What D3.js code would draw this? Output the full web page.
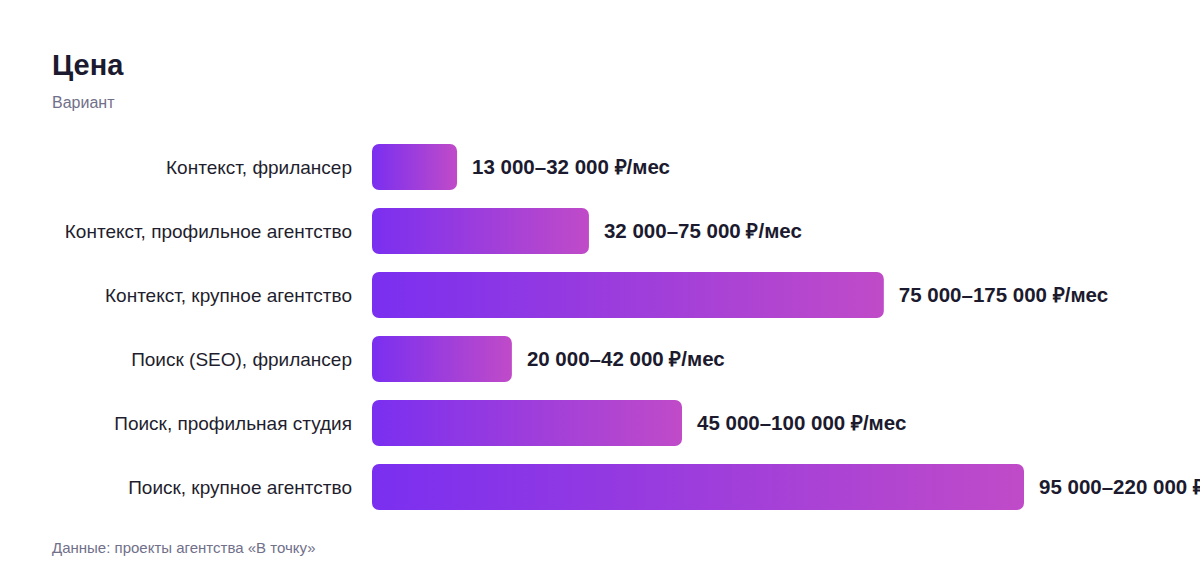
<!DOCTYPE html>
<html><head><meta charset="utf-8">
<script src="https://cdn.jsdelivr.net/npm/d3@7"></script>
<style>
html,body{margin:0;padding:0;background:#fff;}
svg{display:block;font-family:"Liberation Sans",Arial,Helvetica,sans-serif;}
</style></head>
<body>
<script>
const categories = [
  "Контекст, фрилансер",
  "Контекст, профильное агентство",
  "Контекст, крупное агентство",
  "Поиск (SEO), фрилансер",
  "Поиск, профильная студия",
  "Поиск, крупное агентство"
];
const priceLabels = [
  "13 000–32 000 ₽/мес",
  "32 000–75 000 ₽/мес",
  "75 000–175 000 ₽/мес",
  "20 000–42 000 ₽/мес",
  "45 000–100 000 ₽/мес",
  "95 000–220 000 ₽/мес"
];
const barValues = [28.7, 73.2, 172.7, 47.2, 104.6, 220];
const title = "Цена";
const subtitle = "Вариант";
const source = "Данные: проекты агентства «В точку»";

const W = 1200, H = 584;
const svg = d3.select("body").append("svg").attr("width", W).attr("height", H);

const defs = svg.append("defs");
const grad = defs.append("linearGradient").attr("id", "barGrad")
  .attr("x1", "0%").attr("x2", "100%").attr("y1", "0%").attr("y2", "0%");
grad.append("stop").attr("offset", "0%").attr("stop-color", "#7a2ff0");
grad.append("stop").attr("offset", "100%").attr("stop-color", "#c04bc8");

svg.append("text").attr("x", 52).attr("y", 75)
  .attr("font-size", 29).attr("font-weight", 700).attr("fill", "#1b1a2e").text(title);
svg.append("text").attr("x", 52).attr("y", 108)
  .attr("font-size", 16).attr("fill", "#71708a").text(subtitle);
svg.append("text").attr("x", 52).attr("y", 553)
  .attr("font-size", 15).attr("fill", "#71708a").text(source);

const x0 = 372;
const x = d3.scaleLinear().domain([0, 220]).range([0, 652]);
const y = d3.scaleBand().domain(categories).range([135, 519]).paddingInner(18/64).paddingOuter(9/64);

const g = svg.append("g");
const rows = g.selectAll("g.row").data(categories).join("g").attr("class", "row");

rows.append("rect")
  .attr("x", x0)
  .attr("y", d => y(d))
  .attr("width", (d, i) => x(barValues[i]))
  .attr("height", y.bandwidth())
  .attr("rx", 7)
  .attr("fill", "url(#barGrad)");

rows.append("text")
  .attr("x", x0 - 20)
  .attr("y", d => y(d) + y.bandwidth() / 2)
  .attr("dy", "0.35em")
  .attr("text-anchor", "end")
  .attr("font-size", 19)
  .attr("fill", "#1f1e2e")
  .text(d => d);

rows.append("text")
  .attr("x", (d, i) => x0 + x(barValues[i]) + 15)
  .attr("y", d => y(d) + y.bandwidth() / 2)
  .attr("dy", "0.35em")
  .attr("font-size", 20.5)
  .attr("font-weight", 700)
  .attr("fill", "#1b1a2e")
  .text((d, i) => priceLabels[i]);
</script>
</body></html>
